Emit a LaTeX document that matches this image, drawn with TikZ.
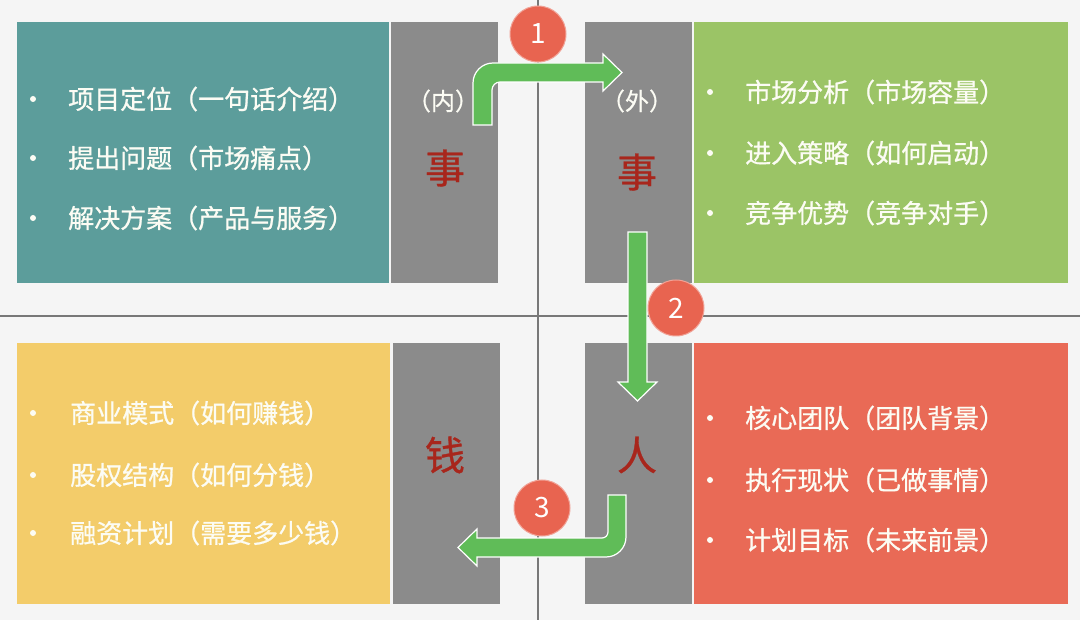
\documentclass[tikz,border=0pt]{standalone}
\usepackage{fontspec}
\setmainfont{Noto Sans CJK SC}
\definecolor{bgc}{RGB}{245,245,245}
\definecolor{divc}{RGB}{120,120,120}
\definecolor{tealc}{RGB}{92,157,155}
\definecolor{greyc}{RGB}{139,139,139}
\definecolor{greenc}{RGB}{155,196,102}
\definecolor{yellowc}{RGB}{243,204,106}
\definecolor{redc}{RGB}{233,106,86}
\definecolor{circc}{RGB}{232,100,80}
\definecolor{arrowc}{RGB}{96,188,88}
\definecolor{bigc}{RGB}{168,38,28}
\definecolor{itemc}{RGB}{252,252,244}
\begin{document}
\begin{tikzpicture}[x=1pt,y=-1pt,
  panel/.style={inner sep=0pt,outer sep=0pt,draw=none,minimum height=261pt},
  greybox/.style={panel,fill=greyc,minimum width=107pt},
  item/.style={anchor=west,inner sep=0pt,text=itemc,font=\fontsize{26}{30}\selectfont\addfontfeature{FakeBold=0.8}},
  dot/.style={circle,inner sep=0pt,fill=itemc,minimum size=6pt},
  side/.style={inner sep=0pt,text=itemc,font=\fontsize{24}{28}\selectfont\addfontfeature{FakeBold=0.6}},
  big/.style={inner sep=0pt,text=bigc,font=\fontsize{40}{44}\selectfont\addfontfeature{FakeBold=0.8}},
  numc/.style={circle,fill=circc,draw=circc!60!white,line width=1pt,minimum size=56pt,inner sep=0pt,text=white,font=\fontsize{28}{32}\selectfont},
  blockarrow/.style={fill=arrowc,draw=white,line width=1.2pt,line join=miter},
  divline/.style={draw=divc,line width=2pt}]
\fill[bgc] (0,0) rectangle (1080,620);
\useasboundingbox (0,0) rectangle (1080,620);
% dividing lines
\coordinate (vt) at (538,0);
\coordinate (vb) at (538,620);
\coordinate (hl) at (0,316);
\coordinate (hr) at (1080,316);
\draw[divline] (vt) -- (vb);
\draw[divline] (hl) -- (hr);
% panels
\node[panel,fill=tealc,minimum width=372pt] (qa) at (203,152.5) {};
\node[greybox] (ga) at (444.5,152.5) {};
\node[greybox] (gb) at (638.5,152.5) {};
\node[panel,fill=greenc,minimum width=374pt] (qb) at (880.5,152.5) {};
\node[panel,fill=yellowc,minimum width=373pt] (qc) at (203.5,473.5) {};
\node[greybox] (gc) at (446,473.5) {};
\node[greybox] (gd) at (638,473.5) {};
\node[panel,fill=redc,minimum width=374pt] (qd) at (880.5,473.5) {};
% teal items
\node[dot] (da1) at (33,99) {};
\node[dot] (da2) at (33,158) {};
\node[dot] (da3) at (33,218) {};
\node[item] (ta1) at (68,99) {项目定位（一句话介绍）};
\node[item] (ta2) at (68,158) {提出问题（市场痛点）};
\node[item] (ta3) at (68,218) {解决方案（产品与服务）};
% green items
\node[dot] (db1) at (710,92) {};
\node[dot] (db2) at (710,153) {};
\node[dot] (db3) at (710,213) {};
\node[item] (tb1) at (745,92) {市场分析（市场容量）};
\node[item] (tb2) at (745,153) {进入策略（如何启动）};
\node[item] (tb3) at (745,213) {竞争优势（竞争对手）};
% yellow items
\node[dot] (dc1) at (33,413) {};
\node[dot] (dc2) at (33,475) {};
\node[dot] (dc3) at (33,533) {};
\node[item] (tc1) at (70,413) {商业模式（如何赚钱）};
\node[item] (tc2) at (70,475) {股权结构（如何分钱）};
\node[item] (tc3) at (70,533) {融资计划（需要多少钱）};
% red items
\node[dot] (dd1) at (710,418) {};
\node[dot] (dd2) at (710,480) {};
\node[dot] (dd3) at (710,540) {};
\node[item] (td1) at (745,418) {核心团队（团队背景）};
\node[item] (td2) at (745,480) {执行现状（已做事情）};
\node[item] (td3) at (745,540) {计划目标（未来前景）};
% grey labels
\node[side] (la) at (443,101) {（内）};
\node[side] (lb) at (637,101) {（外）};
\node[big] (ka) at (445,168) {事};
\node[big] (kb) at (637,172) {事};
\node[big] (kc) at (445,455) {钱};
\node[big] (kd) at (637,455) {人};
% block arrows
\draw[blockarrow] (473,125) -- (473,83) .. controls (473,72) and (482,63) .. (493,63)
  -- (603,63) -- (603,54) -- (622,72.5) -- (603,91) -- (603,82) -- (500,82)
  .. controls (495.6,82) and (492,85.6) .. (492,90) -- (492,125) -- cycle;
\draw[blockarrow] (628,232) -- (647,232) -- (647,382) -- (657,382) -- (637.5,401)
  -- (618,382) -- (628,382) -- cycle;
\draw[blockarrow] (608,495) -- (626,495) -- (626,537) .. controls (626,548) and (617,557) .. (606,557)
  -- (477,557) -- (477,566) -- (458,547.5) -- (477,529) -- (477,538) -- (602,538)
  .. controls (605.3,538) and (608,535.3) .. (608,532) -- cycle;
% numbered circles
\node[numc] (n1) at (538,34) {1};
\node[numc] (n2) at (676,308) {2};
\node[numc] (n3) at (542,508) {3};
\end{tikzpicture}
\end{document}
